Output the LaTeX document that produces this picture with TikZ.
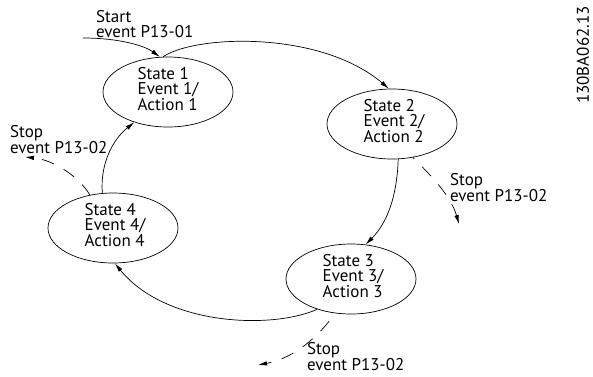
\documentclass[tikz,border=0pt]{standalone}
\usepackage{fontspec}
\setmainfont{PT Sans}
\usetikzlibrary{shapes.geometric,arrows.meta}
\begin{document}
\begin{tikzpicture}[x=1pt,y=-1pt,
  st/.style={ellipse,draw,line width=0.7pt,minimum width=130pt,minimum height=70pt,inner sep=0pt},
  txt/.style={align=left,inner sep=0pt,font=\fontsize{17}{15.5}\selectfont},
  conn/.style={line width=0.7pt,-{Latex[length=9pt,width=4.5pt]}},
  stopc/.style={conn,dash pattern=on 13pt off 11pt}]
\useasboundingbox (0,0) rectangle (593,376);
% states
\node[st] (e1) at (168,92) {};
\node[st] (e2) at (392,124) {};
\node[st] (e3) at (351,279) {};
\node[st] (e4) at (113,228) {};
\node[txt] (t1) at (168,89) {State 1\\Event 1/\\Action 1};
\node[txt] (t2) at (394,121) {State 2\\Event 2/\\Action 2};
\node[txt] (t3) at (353,276) {State 3\\Event 3/\\Action 3};
\node[txt] (t4) at (115,225) {State 4\\Event 4/\\Action 4};
% labels
\node[txt,anchor=north west] (lstart) at (96,10) {Start\\event P13-01};
\node[txt,anchor=north west] (lstop4) at (10,125) {Stop\\event P13-02};
\node[txt,anchor=north west] (lstop2) at (450,173) {Stop\\event P13-02};
\node[txt,anchor=north west] (lstop3) at (307,342) {Stop\\event P13-02};
\node[txt,rotate=90] (id) at (583,55) {130BA062.13};
% coordinates
\coordinate (s0) at (83,38);
\coordinate (x4) at (25,157);
\coordinate (x2) at (459,224);
\coordinate (x3) at (258,365);
% transitions
\draw[conn] (s0) .. controls (120,38) and (145,46) .. (e1.103);
\draw[conn] (e1.98) .. controls (195,35) and (320,30) .. (e2.95);
\draw[conn] (e2.-80) .. controls (397,195) and (388,222) .. (e3.67);
\draw[conn] (e3.222) .. controls (270,330) and (165,325) .. (e4.-87);
\draw[conn] (e4.107) .. controls (100,165) and (112,140) .. (e1.222);
% stop events
\draw[stopc] (e4.125) .. controls (80,178) and (55,160) .. (x4);
\draw[stopc,dash phase=11pt] (e2.-58) .. controls (425,170) and (450,193) .. (x2);
\draw[stopc,dash phase=14pt] (e3.245) .. controls (320,335) and (295,358) .. (x3);
\end{tikzpicture}
\end{document}
